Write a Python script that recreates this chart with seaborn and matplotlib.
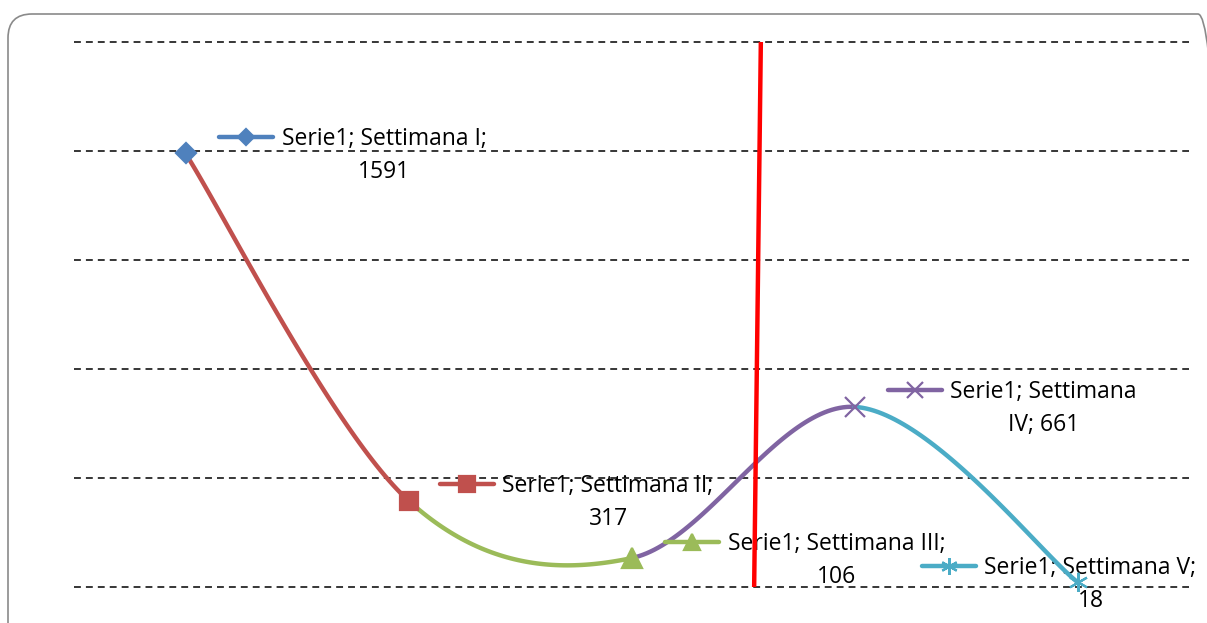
import numpy as np
import pandas as pd
import matplotlib
matplotlib.use("Agg")
import matplotlib.pyplot as plt
from matplotlib.lines import Line2D
from matplotlib.patches import FancyBboxPatch
from matplotlib.offsetbox import DrawingArea, AnnotationBbox
from matplotlib.transforms import IdentityTransform
import seaborn as sns

# ==========================================
# DATA
# ==========================================
series_name = "Serie1"
weeks = ["Settimana I", "Settimana II", "Settimana III", "Settimana IV", "Settimana V"]
values = [1591, 317, 106, 661, 18]

# red reference line (bottom -> top)
red_line_x = [3.55, 3.58]
red_line_y = [0, 2000]

grid_values = [0, 400, 800, 1200, 1600, 2000]

# ==========================================
# STYLE
# ==========================================
point_colors = ["#4F81BD", "#C0504D", "#9BBB59", "#8064A2", "#4BACC6"]
point_markers = ["D", "s", "^", "x", (6, 2, 0)]
marker_sizes = [10, 13, 14, 15, 14]
key_marker_sizes = [8, 11, 12, 12, 12]
# label offsets (pixels) of the legend key from each point
label_dx = [33, 31, 33, 33, -156]
split_label = [False, False, False, True, False]

DPI = 100
W, H = 1207, 623


def label_text(week, value, split_week):
    if split_week:
        word, num = week.split()
        return f"{series_name}; {word}\n{num}; {value}"
    return f"{series_name}; {week};\n{value}"


def smooth_segments(xs, ys, n=60):
    """Excel-like smoothed line: cubic bezier per segment (Catmull-Rom)."""
    pts = np.column_stack([xs, ys]).astype(float)
    ext = np.vstack([pts[0], pts, pts[-1]])
    t = np.linspace(0, 1, n)[:, None]
    segs = []
    for i in range(len(pts) - 1):
        p0, p1, p2, p3 = ext[i], ext[i + 1], ext[i + 2], ext[i + 3]
        c1 = p1 + (p2 - p0) / 6
        c2 = p2 - (p3 - p1) / 6
        b = ((1 - t) ** 3) * p1 + 3 * ((1 - t) ** 2) * t * c1 + 3 * (1 - t) * t ** 2 * c2 + t ** 3 * p2
        segs.append(pd.DataFrame({"x": b[:, 0], "y": b[:, 1], "seg": i + 1}))
    return pd.concat(segs, ignore_index=True)


def main():
    sns.set_theme(style="white")
    plt.rcParams["font.family"] = ["Open Sans", "DejaVu Sans"]

    fig = plt.figure(figsize=(W / DPI, H / DPI), dpi=DPI)
    fig.patch.set_facecolor("white")

    # plot area: gridlines from y=42px to y=587px, x from 75px to 1190px
    pad_px = 4
    top_px, bot_px = 42, 587
    units_per_px = (grid_values[-1] - grid_values[0]) / (bot_px - top_px)
    ax = fig.add_axes([74 / W, 1 - (bot_px + pad_px) / H, 1115 / W,
                       (bot_px - top_px + 2 * pad_px) / H])
    ax.set_facecolor("none")

    x = np.arange(1, len(values) + 1)

    for g in grid_values:
        ax.axhline(g, color="black", lw=1.1, dashes=(4.5, 3.3), zorder=1)

    curve = smooth_segments(x, values)
    sns.lineplot(data=curve, x="x", y="y", hue="seg", palette=point_colors[1:],
                 estimator=None, sort=False, lw=3.2, legend=False, ax=ax, zorder=3)

    for xi, v, c, m, ms in zip(x, values, point_colors, point_markers, marker_sizes):
        ax.plot([xi], [v], marker=m, ms=ms, color=c, mec=c, mew=1.6,
                linestyle="none", zorder=4)

    ax.plot(red_line_x, red_line_y, color="#FF0000", lw=3.2, zorder=5,
            solid_capstyle="butt")

    # data labels with legend keys
    key_len = 54 * 72 / DPI
    for i, (xi, v) in enumerate(zip(x, values)):
        da = DrawingArea(key_len, 14, clip=False)
        da.add_artist(Line2D([0, key_len], [7, 7], color=point_colors[i], lw=3.2,
                             solid_capstyle="round"))
        da.add_artist(Line2D([key_len / 2], [7], marker=point_markers[i],
                             ms=key_marker_sizes[i], color=point_colors[i],
                             mec=point_colors[i], mew=1.6, linestyle="none"))
        ab = AnnotationBbox(da, (xi, v), xybox=(label_dx[i], 16.5),
                            boxcoords="offset pixels", box_alignment=(0, 0.5),
                            frameon=False, pad=0, zorder=6)
        ax.add_artist(ab)
        ax.annotate(label_text(weeks[i], v, split_label[i]), xy=(xi, v),
                    xytext=(label_dx[i] + 63, -2), textcoords="offset pixels",
                    ha="left", va="center", multialignment="center",
                    fontsize=16.5, linespacing=1.5, color="black", zorder=2)

    ax.set_xlim(0.5, len(values) + 0.5)
    ax.set_ylim(grid_values[0] - pad_px * units_per_px,
                grid_values[-1] + pad_px * units_per_px)
    ax.set_xticks([])
    ax.set_yticks([])
    ax.set_xlabel("")
    ax.set_ylabel("")
    sns.despine(ax=ax, left=True, bottom=True)

    # rounded chart frame (pixels); right and bottom edges run off the canvas
    frame = FancyBboxPatch((8, -40), 1214, H - 14 + 40,
                           boxstyle="round,pad=0,rounding_size=24",
                           transform=IdentityTransform(), fill=False,
                           ec="#8a8a8a", lw=1.2)
    fig.add_artist(frame)

    fig.savefig("out.png", dpi=DPI, facecolor="white")
    plt.close(fig)


if __name__ == "__main__":
    main()
